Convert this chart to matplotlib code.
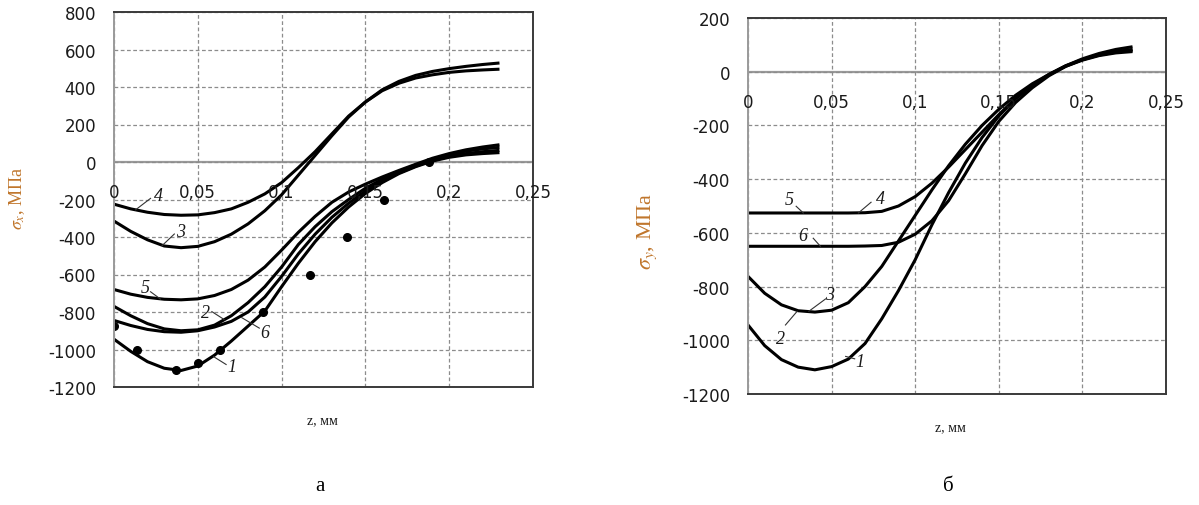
import matplotlib
matplotlib.use("Agg")
import matplotlib.pyplot as plt
from matplotlib.transforms import offset_copy

plt.rcParams['mathtext.fontset'] = 'stix'

# depth z, mm (same grid for all curves)
z = [0.00, 0.01, 0.02, 0.03, 0.04, 0.05, 0.06, 0.07, 0.08, 0.09, 0.10, 0.11,
     0.12, 0.13, 0.14, 0.15, 0.16, 0.17, 0.18, 0.19, 0.20, 0.21, 0.22, 0.23]

# --- (а) sigma_x, MPa ---
sx_1 = [-945, -1010, -1065, -1100, -1112, -1088, -1030, -955, -875, -795, -665, -540,
        -425, -325, -240, -168, -110, -62, -25, 5, 25, 38, 45, 50]
sx_2 = [-770, -820, -862, -890, -900, -895, -870, -820, -750, -665, -560, -440,
        -345, -265, -200, -140, -92, -52, -18, 15, 40, 58, 70, 78]
sx_3 = [-315, -370, -415, -448, -457, -450, -425, -385, -330, -260, -175, -70,
        35, 140, 240, 320, 385, 430, 462, 483, 498, 510, 520, 528]
sx_4 = [-225, -250, -268, -280, -284, -282, -270, -250, -215, -170, -110, -30,
        55, 150, 245, 320, 380, 420, 448, 465, 478, 486, 491, 495]
sx_5 = [-680, -705, -722, -732, -735, -730, -712, -680, -630, -560, -470, -375,
        -290, -215, -160, -118, -80, -45, -12, 20, 45, 65, 80, 92]
sx_6 = [-845, -872, -893, -905, -908, -900, -880, -850, -800, -720, -610, -490,
        -385, -295, -220, -155, -102, -58, -22, 8, 30, 45, 55, 62]

# experimental points
exp_z = [0.0, 0.014, 0.037, 0.05, 0.063, 0.089, 0.117, 0.139, 0.161, 0.188]
exp_sx = [-875, -1000, -1110, -1070, -1000, -800, -600, -400, -200, 0]

# --- (б) sigma_y, MPa ---
sy_1 = [-943, -1020, -1072, -1100, -1110, -1098, -1070, -1012, -920, -815, -700, -570,
        -450, -340, -245, -165, -100, -50, -12, 20, 43, 60, 70, 75]
sy_23 = [-762, -825, -868, -890, -895, -888, -860, -800, -725, -630, -535, -440,
         -350, -270, -200, -140, -88, -45, -10, 22, 48, 68, 83, 93]
sy_45 = [-526, -526, -526, -526, -526, -526, -526, -525, -520, -500, -465, -415,
         -355, -290, -225, -160, -100, -50, -10, 22, 45, 62, 73, 80]
sy_6 = [-650, -650, -650, -650, -650, -650, -650, -649, -647, -635, -605, -555,
        -480, -380, -275, -185, -115, -60, -15, 20, 45, 63, 75, 83]

xticks = [0, 0.05, 0.1, 0.15, 0.2, 0.25]
xtick_labels = ["0", "0,05", "0,1", "0,15", "0,2", "0,25"]

fig = plt.figure(figsize=(11.99, 5.06), dpi=100)
ax1 = fig.add_axes([114 / 1199, 1 - 388 / 506, 419 / 1199, 375 / 506])
ax2 = fig.add_axes([748 / 1199, 1 - 395 / 506, 418 / 1199, 376 / 506])

label_color = '#C0762C'
tick_font = dict(family='DejaVu Sans', size=12, color='#1a1a1a')


def style_axes(ax, ylo, yhi):
    ax.set_xlim(0, 0.25)
    ax.set_ylim(ylo, yhi)
    yt = list(range(ylo, yhi + 1, 200))
    ax.set_yticks(yt)
    ax.set_yticklabels([str(v) for v in yt], **tick_font)
    ax.set_xticks(xticks)
    ax.set_xticklabels([])
    ax.tick_params(length=0, pad=13)
    ax.grid(True, color='#8c8c8c', linestyle=(0, (3, 2)), linewidth=0.9)
    ax.axhline(0, color='#9a9a9a', linewidth=1.6, zorder=1)
    ax.spines['left'].set_color('#9a9a9a')
    for s in ('top', 'right', 'bottom'):
        ax.spines[s].set_color('#3a3a3a')
    for s in ax.spines.values():
        s.set_linewidth(1.4)
    tr = offset_copy(ax.transData, fig=fig, x=0, y=-30, units='dots')
    for xv, lab in zip(xticks, xtick_labels):
        ax.text(xv, 0, lab, transform=tr, ha='center', va='center', **tick_font)


style_axes(ax1, -1200, 800)
style_axes(ax2, -1200, 200)

for s in (sx_1, sx_2, sx_3, sx_4, sx_5, sx_6):
    ax1.plot(z, s, color='black', linewidth=2.2, solid_capstyle='butt')
ax1.plot(exp_z, exp_sx, 'o', color='black', markersize=5.5)

for s in (sy_1, sy_23, sy_45, sy_6):
    ax2.plot(z, s, color='black', linewidth=2.2, solid_capstyle='butt')

num_font = dict(family='Liberation Serif', style='italic', size=13, color='#1a1a1a')


def curve_label(ax, text, pos, start, end):
    ax.plot([start[0], end[0]], [start[1], end[1]], color='#333333', linewidth=0.8)
    ax.text(pos[0], pos[1], text, ha='center', va='center', **num_font)


curve_label(ax1, "4", (0.0267, -181), (0.0218, -194), (0.0129, -255))
curve_label(ax1, "3", (0.0396, -372), (0.036, -384), (0.0287, -446))
curve_label(ax1, "5", (0.0184, -671), (0.0218, -692), (0.0277, -731))
curve_label(ax1, "2", (0.0545, -801), (0.0584, -798), (0.0657, -840))
curve_label(ax1, "6", (0.090, -912), (0.0867, -886), (0.0762, -830))
curve_label(ax1, "1", (0.0703, -1088), (0.0669, -1080), (0.0594, -1038))

curve_label(ax2, "5", (0.0249, -474), (0.0288, -501), (0.0331, -526))
curve_label(ax2, "4", (0.079, -471), (0.0736, -486), (0.066, -526))
curve_label(ax2, "6", (0.0325, -610), (0.039, -620), (0.0433, -650))
curve_label(ax2, "3", (0.0486, -831), (0.0464, -846), (0.0364, -892))
curve_label(ax2, "2", (0.0197, -993), (0.0224, -943), (0.0294, -892))
curve_label(ax2, "1", (0.067, -1080), (0.0638, -1069), (0.0584, -1060))

fig.text(17 / 1199, 1 - 198 / 506, r'$\sigma_x$, МПа', rotation=90, ha='center', va='center',
         family='Liberation Serif', size=13, color=label_color)
fig.text(647 / 1199, 1 - 231 / 506, r'$\sigma_y$, МПа', rotation=90, ha='center', va='center',
         family='Liberation Serif', size=16, color=label_color)

fig.text(322 / 1199, 1 - 421 / 506, "z, мм", ha='center', va='center',
         family='Liberation Serif', size=10, color='#1a1a1a')
fig.text(950 / 1199, 1 - 428 / 506, "z, мм", ha='center', va='center',
         family='Liberation Serif', size=10, color='#1a1a1a')
fig.text(320 / 1199, 1 - 487 / 506, "а", ha='center', va='center',
         family='Liberation Serif', size=15, color='black')
fig.text(948 / 1199, 1 - 487 / 506, "б", ha='center', va='center',
         family='Liberation Serif', size=15, color='black')

fig.savefig("out.png", dpi=100)
